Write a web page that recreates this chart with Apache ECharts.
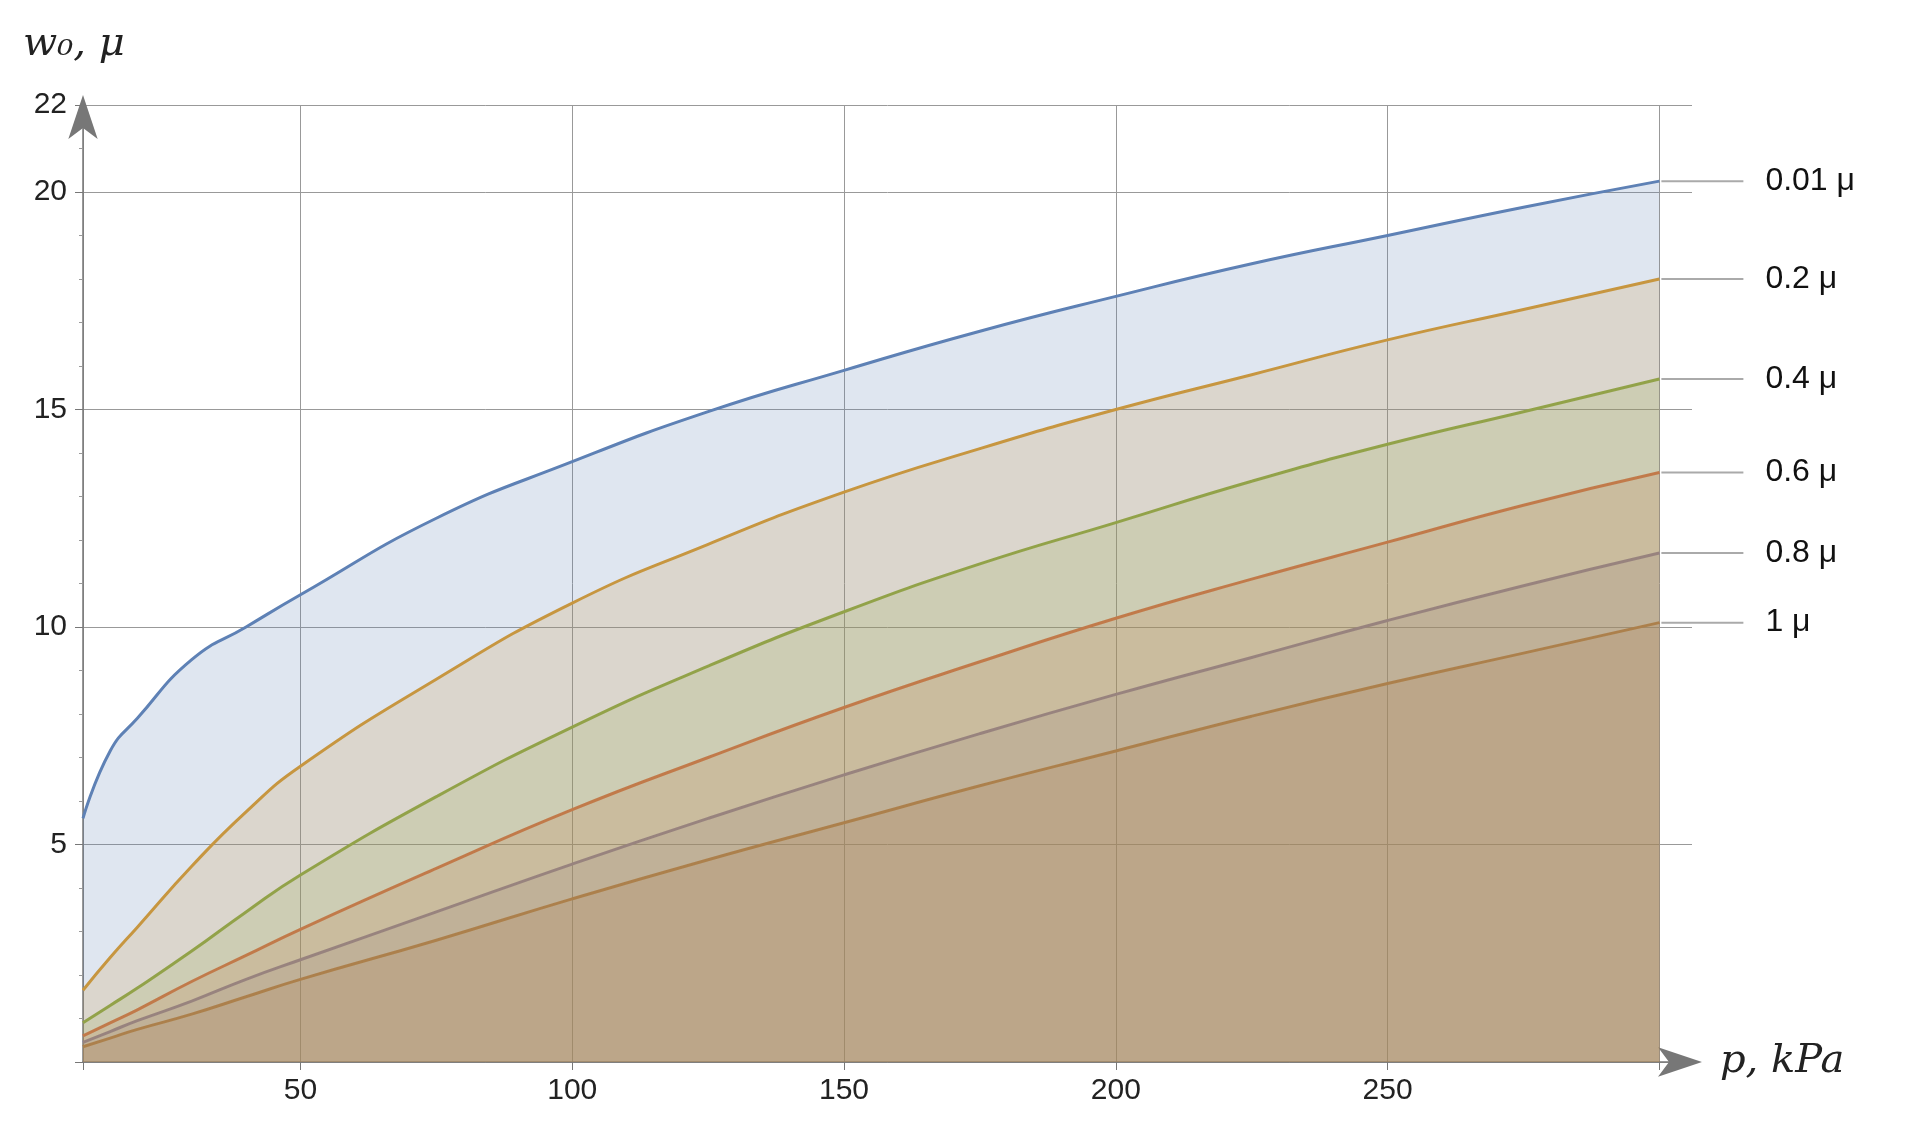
<!DOCTYPE html>
<html><head><meta charset="utf-8">
<script src="https://cdn.jsdelivr.net/npm/echarts@6/dist/echarts.min.js"></script>
<style>html,body{margin:0;padding:0;background:#fff}#c{width:1905px;height:1140px}</style>
</head><body><div id="c"></div>
<script>
const pValues = [10,15,20,30,40,50,75,100,125,150,175,200,225,250,275,300];
const seriesNames = ['0.01 μ','0.2 μ','0.4 μ','0.6 μ','0.8 μ','1 μ'];
const w001 = [5.6,7.15,7.9,9.25,10.0,10.74,12.5,13.8,14.95,15.9,16.8,17.6,18.35,19.0,19.65,20.25];
const w02  = [1.65,2.4,3.1,4.5,5.75,6.8,8.8,10.55,11.9,13.1,14.1,15.0,15.8,16.6,17.3,18.0];
const w04  = [0.9,1.3,1.7,2.55,3.45,4.3,6.1,7.7,9.1,10.35,11.45,12.4,13.35,14.2,14.95,15.7];
const w06  = [0.6,0.9,1.2,1.85,2.45,3.05,4.45,5.8,7.0,8.15,9.2,10.2,11.1,11.95,12.8,13.55];
const w08  = [0.45,0.7,0.95,1.4,1.9,2.35,3.45,4.55,5.6,6.6,7.55,8.45,9.3,10.15,10.95,11.7];
const w1   = [0.35,0.55,0.75,1.1,1.5,1.9,2.8,3.75,4.65,5.5,6.35,7.15,7.95,8.7,9.4,10.1];
const xTicks = [10,50,100,150,200,250,300];
const xLabels = [50,100,150,200,250];
const colors = ['#5E81B5','#E19C24','#8FB032','#EB6235','#8778B3','#C56E1A'];
const all = [w001,w02,w04,w06,w08,w1];
const chart = echarts.init(document.getElementById('c'));
chart.setOption({
  animation:false,
  grid:{left:83,right:213,top:105,bottom:78},
  xAxis:{type:'value',min:10,max:306,
    name:'p, kPa',nameLocation:'end',nameGap:28,
    nameTextStyle:{fontFamily:'DejaVu Serif',fontStyle:'italic',fontSize:40,color:'#222',verticalAlign:'middle'},
    axisLine:{onZero:false,lineStyle:{color:'#777',width:1.5},symbol:['none','arrow'],symbolSize:[22,44],symbolOffset:[0,10]},
    axisTick:{show:true,customValues:xTicks,length:8,lineStyle:{color:'#777'}},
    axisLabel:{customValues:xLabels,fontSize:30,color:'#222',fontFamily:'Liberation Sans',margin:14},
    splitLine:{show:true,lineStyle:{color:'#999',width:1}}},
  yAxis:{type:'value',min:0,max:22,interval:5,
    name:'w₀, μ',nameLocation:'end',nameGap:40,
    nameTextStyle:{fontFamily:'DejaVu Serif',fontStyle:'italic',fontSize:40,color:'#222',align:'left',padding:[0,0,0,-60]},
    axisLine:{lineStyle:{color:'#777',width:1.5},symbol:['none','arrow'],symbolSize:[22,44],symbolOffset:[0,10]},
    axisTick:{show:true,length:8,lineStyle:{color:'#777'}},
    minorTick:{show:true,splitNumber:5,length:4,lineStyle:{color:'#999'}},
    axisLabel:{fontSize:30,color:'#222',fontFamily:'Liberation Sans',margin:16,formatter:v=>v===0?'':v},
    splitLine:{show:true,lineStyle:{color:'#999',width:1}}},
  series: all.map((d,i)=>({
    name:seriesNames[i],type:'line',smooth:true,symbol:'none',
    data:pValues.map((p,j)=>[p,d[j]]),
    lineStyle:{color:colors[i],width:3},
    areaStyle:{color:colors[i],opacity:0.2,origin:'start'},
    z:10-i,
    endLabel:{show:true,distance:2,formatter:()=>'{l|}{t|'+seriesNames[i]+'}',
      rich:{l:{width:82,height:2,backgroundColor:'#aaa'},
            t:{fontSize:32,fontFamily:'Liberation Sans',color:'#111',padding:[0,0,0,22]}}}
  }))
});
</script></body></html>
